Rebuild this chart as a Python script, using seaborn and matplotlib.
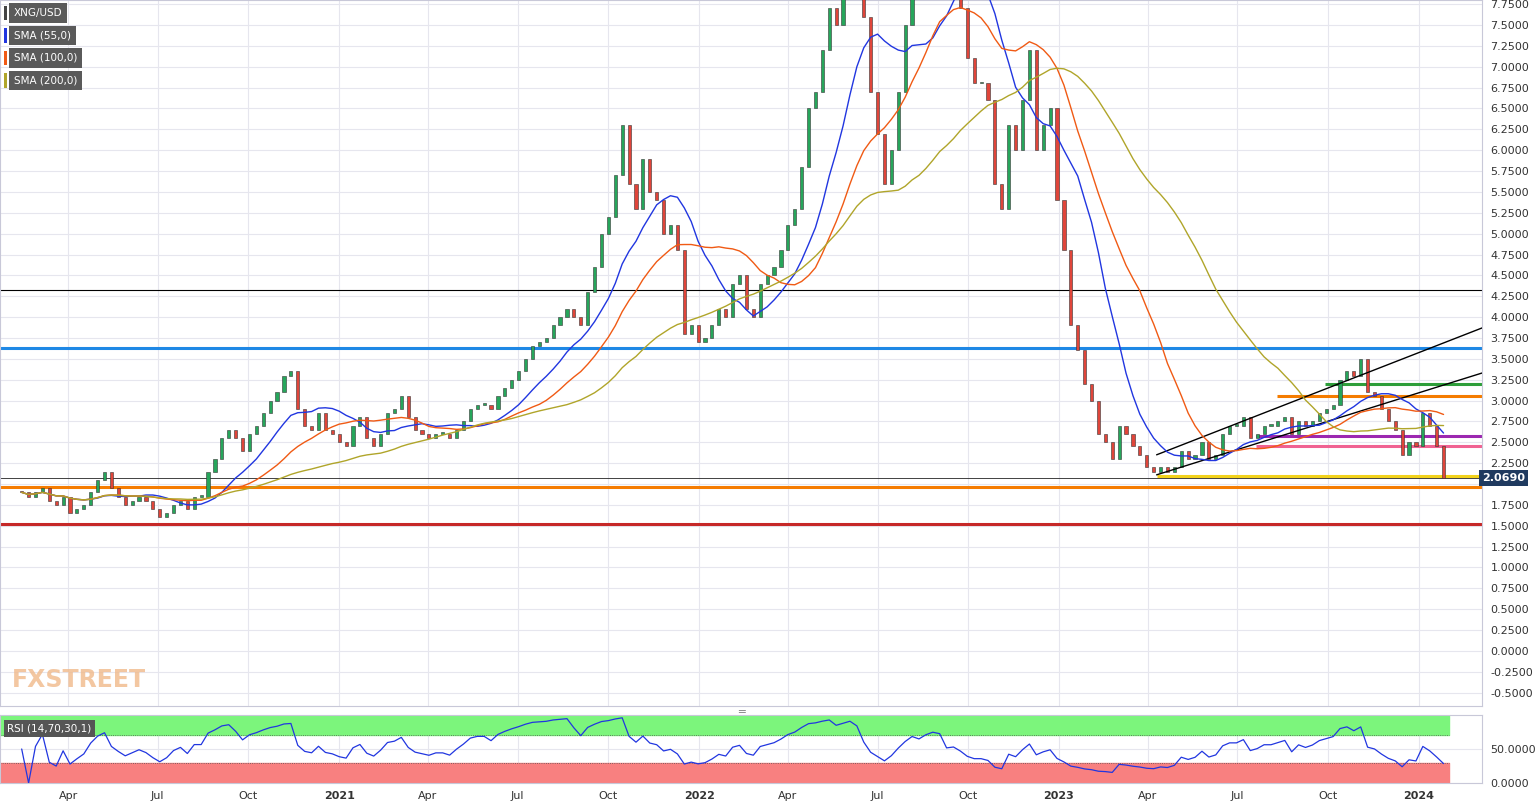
import numpy as np, pandas as pd, matplotlib
matplotlib.use("Agg")
import matplotlib.pyplot as plt, matplotlib.dates as mdates
import seaborn as sns

sns.set_theme(style="white")
plt.rcParams['font.family'] = ['DejaVu Sans']

closes = [1.90,
 1.85,1.90,1.95,1.80, 1.75,1.85,1.65,1.70, 1.75,1.90,2.05,2.15,1.95, 1.85,1.75,1.80,1.85,
 1.80,1.70,1.60,1.65, 1.75,1.80,1.70,1.85,1.85, 2.15,2.30,2.55,2.65, 2.55,2.40,2.60,2.70,
 2.85,3.00,3.10,3.30,3.35, 2.90,2.70,2.65,2.85, 2.65,2.60,2.50,2.45,
 2.70,2.80,2.55,2.45,2.60, 2.85,2.90,3.05,2.80, 2.65,2.60,2.55,2.60, 2.60,2.55,2.65,2.75,2.90,
 2.95,2.95,2.90,3.05, 3.15,3.25,3.35,3.50, 3.65,3.70,3.75,3.90,4.00, 4.10,4.00,3.90,4.30,
 4.60,5.00,5.20,5.70, 6.30,5.60,5.30,5.90,5.50, 5.40,5.00,5.10,4.80, 3.80,3.90,3.70,3.75,
 3.90,4.10,4.00,4.40, 4.50,4.10,4.00,4.40, 4.50,4.60,4.80,5.10,5.30, 5.80,6.50,6.70,7.20,
 7.70,7.50,8.00,8.70, 8.50,7.60,6.70,6.20,5.60, 6.00,6.70,7.50,8.30, 8.10,8.80,9.30,9.20,
 8.00,8.10,7.70,7.10,6.80, 6.80,6.60,5.60,5.30, 6.30,6.00,6.60,7.20, 6.00,6.30,6.50,5.40,4.80,
 3.90,3.60,3.20,3.00, 2.60,2.50,2.30,2.70, 2.60,2.45,2.35,2.20,2.15, 2.20,2.15,2.20,2.40,
 2.30,2.35,2.50,2.30, 2.35,2.60,2.70,2.70,2.80, 2.55,2.60,2.70,2.70, 2.75,2.80,2.60,2.75,
 2.70,2.75,2.85,2.90,2.95, 3.25,3.35,3.30,3.50, 3.10,3.05,2.90,2.75, 2.65,2.35,2.50,2.45,
 2.85,2.70,2.45,2.07]
first_open = 1.92
last_price = 2.0690

hlines_full = [(4.33, 'black', 0.8), (3.63, '#1e88e5', 2.2), (1.96, '#f57c00', 2.2), (1.52, '#c62828', 2.2), (2.069, '#222222', 0.6)]
hlines_part = [('2023-09-28', 3.20, '#2e9e3a'), ('2023-08-10', 3.05, '#f57c00'), ('2023-07-20', 2.57, '#9c27b0'),
               ('2023-07-20', 2.46, '#f06292'), ('2023-04-10', 2.10, '#f2d21b')]
channel_upper = [('2023-04-10', 2.35), ('2024-03-05', 3.87)]
channel_lower = [('2023-04-10', 2.11), ('2024-03-05', 3.33)]

dates = pd.date_range(end='2024-01-26', periods=len(closes), freq='7D')
df = pd.DataFrame({'date': dates, 'close': closes})
df['open'] = [first_open] + closes[:-1]
df['sma55'] = df.close.rolling(11, min_periods=1).mean()
df['sma100'] = df.close.rolling(20, min_periods=1).mean()
df['sma200'] = df.close.rolling(40, min_periods=1).mean()
d = df.close.diff().fillna(0)
up = d.clip(lower=0).ewm(alpha=1/7, adjust=True).mean()
dn = (-d.clip(upper=0)).ewm(alpha=1/7, adjust=True).mean()
df['rsi'] = (100*up/(up+dn).replace(0, np.nan)).fillna(50)

fig = plt.figure(figsize=(15.36, 8.06), dpi=100)
W, H = 1536, 806
ax = fig.add_axes([0, (H-706)/H, 1482/W, 706/H])
ax2 = fig.add_axes([0, (H-783)/H, 1482/W, 68/H])
xl = (mdates.date2num(pd.Timestamp('2020-01-23')), mdates.date2num(pd.Timestamp('2024-03-05')))

x = mdates.date2num(df.date)
body_bot = np.minimum(df.open, df.close); body_h = np.abs(df.close - df.open).clip(lower=0.02)
cols = np.where(df.close >= df.open, '#26a65b', '#e0453a')
ax.bar(x, body_h, bottom=body_bot, width=3.2, color=cols, edgecolor='#333333', linewidth=0.4, zorder=3)

for y, c, lw in hlines_full:
    ax.axhline(y, color=c, lw=lw, zorder=2)
for s, y, c in hlines_part:
    ax.hlines(y, mdates.date2num(pd.Timestamp(s)), xl[1], color=c, lw=2.2, zorder=2)
for ch in (channel_upper, channel_lower):
    ax.plot([mdates.date2num(pd.Timestamp(p[0])) for p in ch], [p[1] for p in ch], color='black', lw=1, zorder=4)

sns.lineplot(x=x, y=df.sma55, ax=ax, color='#2136e0', lw=1, zorder=5)
sns.lineplot(x=x, y=df.sma100, ax=ax, color='#f05a14', lw=1, zorder=5)
sns.lineplot(x=x, y=df.sma200, ax=ax, color='#b0a52a', lw=1, zorder=5)

ax.set_xlim(*xl); ax.set_ylim(-0.66, 7.8)
ax.yaxis.tick_right()
yt = np.arange(-0.5, 7.76, 0.25)
ax.set_yticks(yt)
ax.set_yticklabels(['' if abs(v-2.0) < 1e-9 else f"{v:.4f}" for v in yt], fontsize=8, color='#333')
ax.tick_params(axis='y', length=0, pad=6)
ax.set_ylabel('')
ticks = pd.date_range('2020-04-01', '2024-01-01', freq='QS')
for a in (ax, ax2):
    a.set_xticks(mdates.date2num(ticks))
    a.grid(True, color='#e6e6ee', lw=0.8)
    a.set_axisbelow(True)
    for sp in a.spines.values(): sp.set_color('#c8c8d8'); sp.set_linewidth(0.8)
ax.set_xticklabels([])
ax.tick_params(axis='x', length=0)
ax.text(1.0, last_price, "2.0690", transform=ax.get_yaxis_transform(), fontsize=8, color='white',
        fontweight='bold', va='center', ha='left', bbox=dict(boxstyle='square,pad=0.25', fc='#1f3a5f', ec='none'), zorder=10, clip_on=False)

labels = [(t.strftime('%Y') if t.month == 1 else t.strftime('%b')) for t in ticks]
ax2.set_xticklabels(labels, fontsize=8, color='#333')
for lab, t in zip(ax2.get_xticklabels(), ticks):
    if t.month == 1: lab.set_fontweight('bold')
ax2.tick_params(axis='x', length=0, pad=6)
band_end = mdates.date2num(pd.Timestamp('2024-02-01'))
ax2.fill_between([xl[0], band_end], 70, 100, color='#7cf57c', zorder=1)
ax2.fill_between([xl[0], band_end], 0, 30, color='#f88080', zorder=1)
ax2.hlines([30, 70], xl[0], band_end, color='#555', lw=0.6, linestyles='dotted', zorder=2)
sns.lineplot(x=x, y=df.rsi, ax=ax2, color='#2136e0', lw=0.9, zorder=3)
ax2.set_xlim(*xl); ax2.set_ylim(0, 100)
ax2.yaxis.tick_right(); ax2.set_yticks([0, 50]); ax2.set_yticklabels(['0.0000', '50.0000'], fontsize=8, color='#333')
ax2.tick_params(axis='y', length=0, pad=6); ax2.set_ylabel('')
ax2.text(0.005, 0.88, "RSI (14,70,30,1)", transform=ax2.transAxes, fontsize=7.5, color='white', va='top',
         bbox=dict(boxstyle='square,pad=0.35', fc='#555', ec='none'))

legend = [("XNG/USD", '#444'), ("SMA (55,0)", '#2136e0'), ("SMA (100,0)", '#f05a14'), ("SMA (200,0)", '#b0a52a')]
for i, (t, c) in enumerate(legend):
    yy = 1 - (13 + 22.5*i)/806
    fig.text(14/W, yy, t, fontsize=7.5, color='white', va='center',
             bbox=dict(boxstyle='square,pad=0.45', fc='#5a5a5a', ec='none'))
    fig.patches.append(plt.Rectangle((4/W, yy-7/806), 3/W, 14/806, transform=fig.transFigure, fc=c, ec='none', zorder=5))
fig.text(12/W, 1-680/806, "FXSTREET", fontsize=17, fontweight='bold', color='#f0b98a', alpha=0.8, va='center')
fig.text(741/W, 1-711/806, "═", fontsize=8, color='#888', ha='center', va='center')
fig.savefig("out.png", dpi=100)
